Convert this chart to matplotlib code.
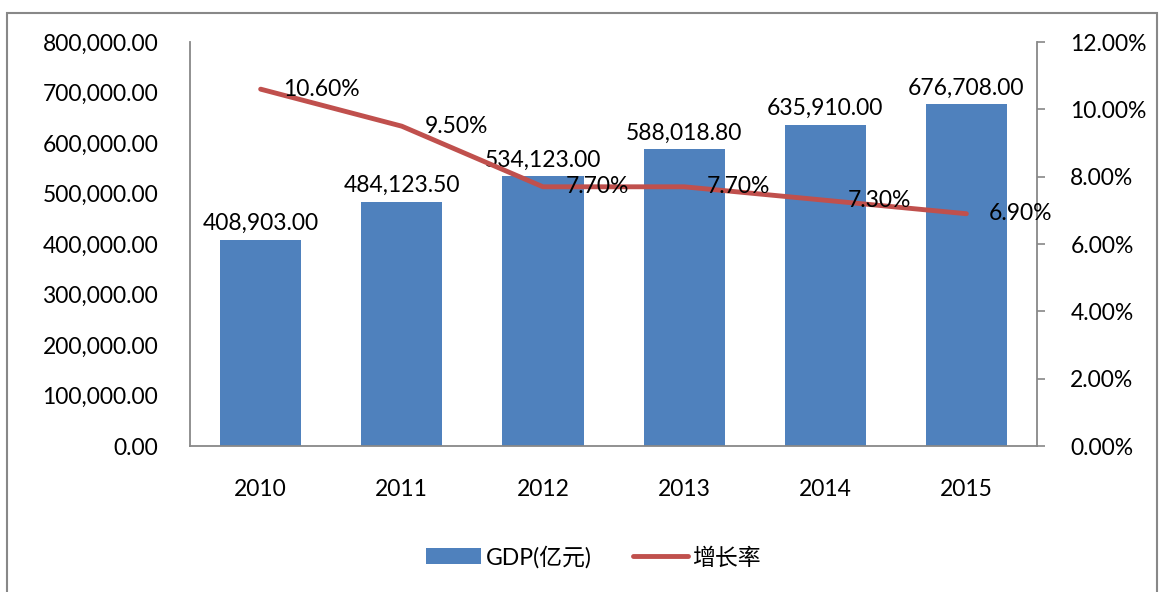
import matplotlib.pyplot as plt
import numpy as np
from matplotlib.patches import Rectangle
from matplotlib.ticker import FuncFormatter

plt.rcParams['font.family'] = ['Lato', 'Noto Sans CJK SC', 'DejaVu Sans']

# data
years = ['2010', '2011', '2012', '2013', '2014', '2015']
gdp = [408903.00, 484123.50, 534123.00, 588018.80, 635910.00, 676708.00]
rate = [10.60, 9.50, 7.70, 7.70, 7.30, 6.90]

bar_color = '#4F81BD'
line_color = '#C0504D'
spine_color = '#888888'
fs = 16.5

fig = plt.figure(figsize=(11.59, 5.92), dpi=100)
ax = fig.add_axes([0.164, 0.2466, 0.7307, 0.6824])
ax2 = ax.twinx()

x = np.arange(len(years))
bars = ax.bar(x, gdp, width=0.575, color=bar_color, label='GDP(亿元)', zorder=2)
ax.set_xlim(-0.5, len(years) - 0.5)
ax.set_ylim(0, 800000)
ax.set_yticks(np.arange(0, 800001, 100000))
ax.yaxis.set_major_formatter(FuncFormatter(lambda v, p: f'{v:,.2f}'))
ax.set_xticks(x)
ax.set_xticklabels(years)
ax.tick_params(axis='y', length=0, pad=23, labelsize=fs)
ax.tick_params(axis='x', length=0, pad=24, labelsize=fs)

for xi, v in zip(x, gdp):
    ax.text(xi, v + 11000, f'{v:,.2f}', ha='center', va='bottom', fontsize=fs, zorder=5)

line, = ax2.plot(x, rate, color=line_color, lw=3.5, solid_capstyle='round', label='增长率', zorder=3)
ax2.set_ylim(0, 12)
ax2.set_yticks(np.arange(0, 12.1, 2))
ax2.yaxis.set_major_formatter(FuncFormatter(lambda v, p: f'{v:.2f}%'))
ax2.tick_params(axis='y', length=6, width=1.2, color=spine_color, pad=18, labelsize=fs, direction='out')

for xi, v in zip(x, rate):
    ax2.text(xi + 0.16, v, f'{v:.2f}%', ha='left', va='center', fontsize=fs, zorder=6)

for a in (ax, ax2):
    for s in a.spines.values():
        s.set_visible(False)
ax.spines['left'].set_visible(True)
ax.spines['bottom'].set_visible(True)
ax2.spines['right'].set_visible(True)
for s in (ax.spines['left'], ax.spines['bottom'], ax2.spines['right']):
    s.set_color(spine_color)
    s.set_linewidth(1.3)

ax2.set_zorder(ax.get_zorder() + 1)
ax2.patch.set_visible(False)

fig.legend([bars, line], ['GDP(亿元)', '增长率'], loc='center', bbox_to_anchor=(0.512, 0.059),
           ncol=2, frameon=False, fontsize=fs, handlelength=2.4, columnspacing=1.8, handletextpad=0.2)

# outer frame
fig.patches.append(Rectangle((7 / 1159, -0.02), 1150 / 1159, 1 - 13 / 592 + 0.02,
                             transform=fig.transFigure, fill=False, edgecolor=spine_color, lw=1.5))

fig.savefig('out.png', dpi=100)
